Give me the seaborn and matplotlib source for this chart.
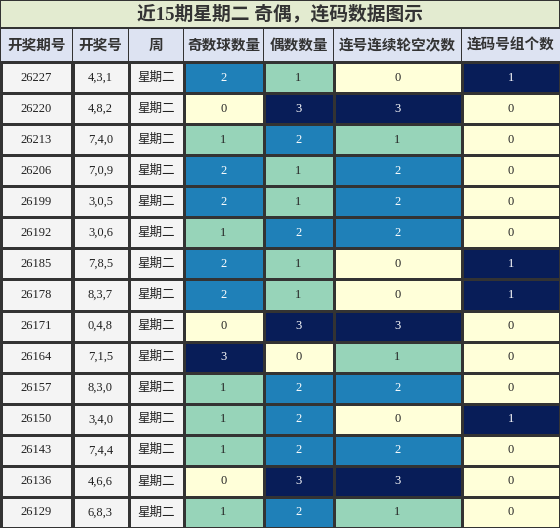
import matplotlib
matplotlib.use("Agg")
import matplotlib.pyplot as plt
import seaborn as sns
import numpy as np
import pandas as pd
from matplotlib.colors import ListedColormap

sns.set_theme(style="white")
plt.rcParams['font.family'] = ['Liberation Serif', 'Noto Sans CJK SC', 'DejaVu Sans']

title = "近15期星期二 奇偶，连码数据图示"
headers = ["开奖期号", "开奖号", "周", "奇数球数量", "偶数数量", "连号连续轮空次数", "连码号组个数"]
issues = ["26227","26220","26213","26206","26199","26192","26185","26178","26171","26164","26157","26150","26143","26136","26129"]
draws = ["4,3,1","4,8,2","7,4,0","7,0,9","3,0,5","3,0,6","7,8,5","8,3,7","0,4,8","7,1,5","8,3,0","3,4,0","7,4,4","4,6,6","6,8,3"]
weekday = ["星期二"] * 15
odd = [2,0,1,2,2,1,2,2,0,3,1,1,1,0,1]
even = [1,3,2,1,1,2,1,1,3,0,2,2,2,3,2]
gap = [0,3,1,2,2,2,0,0,3,1,2,0,2,3,1]
groups = [1,0,0,0,0,0,1,1,0,0,0,1,0,0,0]

W, H = 560, 528
fig = plt.figure(figsize=(W/100, H/100), dpi=100)
fig.patch.set_facecolor("#333333")
edges = [0, 72, 128, 183, 263, 333, 461, 560]
top_data, bot = 62, 528
hdr_top = 29
line = "#333333"
cmap = ListedColormap(['#ffffd9', '#97d4b9', '#1f80b8', '#081d58'])

def fx(p): return p / W
def fy(p): return 1 - p / H

tax = fig.add_axes([fx(1), fy(hdr_top - 2), fx(W - 2), (hdr_top - 3) / H])
tax.set_facecolor("#e3ebd0"); tax.set_xticks([]); tax.set_yticks([])
for s in tax.spines.values(): s.set_visible(False)
tax.text(0.5, 0.5, title, ha="center", va="center", fontsize=13.5, fontweight="bold",
         color="#333333", family=['Liberation Serif', 'Noto Sans CJK SC'])

cols_text = [issues, draws, weekday]
cols_num = [odd, even, gap, groups]
for i in range(7):
    x0, x1 = edges[i], edges[i + 1]
    hax = fig.add_axes([fx(x0 + 1), fy(top_data - 1), fx(x1 - x0 - 1), (top_data - hdr_top - 1) / H])
    hax.set_facecolor("#dde3f2"); hax.set_xticks([]); hax.set_yticks([])
    for s in hax.spines.values(): s.set_visible(False)
    hax.text(0.5, 0.5, headers[i], ha="center", va="center", fontsize=10.5, fontweight="bold",
             color="#333333", family=['Noto Sans CJK SC', 'DejaVu Sans'])
    ax = fig.add_axes([fx(x0 + 0.5), 0, fx(x1 - x0), fy(top_data)])
    if i < 3:
        data = pd.DataFrame({"v": np.zeros(15)})
        annot = np.array(cols_text[i]).reshape(-1, 1)
        sns.heatmap(data, ax=ax, cmap=ListedColormap(["#f4f4f4"]), cbar=False, annot=annot, fmt="",
                    linewidths=0.9, linecolor=line, xticklabels=False, yticklabels=False,
                    annot_kws={"fontsize": 9, "color": "#222222"})
    else:
        vals = np.array(cols_num[i - 3])
        idx = np.round(vals / vals.max() * 3)
        data = pd.DataFrame({"v": idx})
        sns.heatmap(data, ax=ax, cmap=cmap, vmin=-0.5, vmax=3.5, cbar=False,
                    annot=vals.reshape(-1, 1), fmt="d", linewidths=0.9, linecolor=line,
                    xticklabels=False, yticklabels=False, annot_kws={"fontsize": 9})
    ax.set_xlabel(""); ax.set_ylabel("")

fig.savefig("out.png", dpi=100, facecolor=fig.get_facecolor())
